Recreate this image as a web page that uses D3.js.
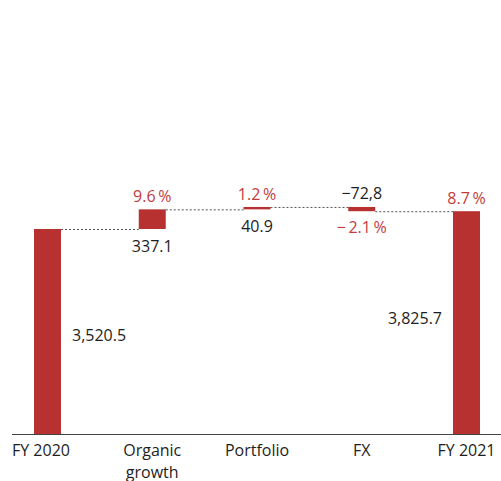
<!DOCTYPE html>
<html>
<head>
<meta charset="utf-8">
<script src="https://cdn.jsdelivr.net/npm/d3@7"></script>
<style>
  html, body { margin: 0; padding: 0; background: #fff; }
  svg { display: block; font-family: "Open Sans", "Noto Sans", sans-serif; }
</style>
</head>
<body>
<svg id="chart" width="501" height="481"></svg>
<script>
// Revenue bridge FY 2020 -> FY 2021
const categories = ["FY 2020", "Organic growth", "Portfolio", "FX", "FY 2021"];
const kinds = ["total", "delta", "delta", "delta", "total"];
const values = [3520.5, 337.1, 40.9, -72.8, 3825.7];
const valueLabels = ["3,520.5", "337.1", "40.9", "\u221272,8", "3,825.7"];
const pctLabels = ["", "9.6\u2009%", "1.2\u2009%", "\u2212\u20092.1\u2009%", "8.7\u2009%"];

const red = "#b83131";
const redText = "#c43c3c";
const ink = "#1e1e1e";

const svg = d3.select("#chart");
const baseY = 434;

const x = d3.scalePoint().domain(categories).range([47.5, 466.5]);
const y = d3.scaleLinear().domain([0, 6400]).range([baseY, 61.3]);
const barW = 27;

// running start/end of each step
let run = 0;
const steps = categories.map((c, i) => {
  let start, end;
  if (kinds[i] === "total") { start = 0; end = values[i]; run = values[i]; }
  else { start = run; end = run + values[i]; run = end; }
  return { c, i, start, end, v: values[i] };
});

// dotted connectors between consecutive bars
const conns = steps.slice(0, -1).map((s, i) => ({ from: s, to: steps[i + 1], level: s.end }));
svg.append("g").selectAll("line").data(conns).join("line")
  .attr("x1", d => x(d.from.c) + barW / 2)
  .attr("x2", d => x(d.to.c) - barW / 2)
  .attr("y1", d => y(d.level) + 0.5)
  .attr("y2", d => y(d.level) + 0.5)
  .attr("stroke", "#555")
  .attr("stroke-width", 1)
  .attr("stroke-dasharray", "2,2");

// bars
svg.append("g").selectAll("rect").data(steps).join("rect")
  .attr("x", d => x(d.c) - barW / 2)
  .attr("width", barW)
  .attr("y", d => y(Math.max(d.start, d.end)))
  .attr("height", d => Math.abs(y(d.start) - y(d.end)))
  .attr("fill", red);

// baseline
svg.append("line")
  .attr("x1", 12).attr("x2", 501)
  .attr("y1", baseY + 0.5).attr("y2", baseY + 0.5)
  .attr("stroke", "#444").attr("stroke-width", 1);

// category labels (first one kept inside the left edge)
const catG = svg.append("g").attr("font-size", 16).attr("fill", ink);
steps.forEach(s => {
  const words = s.c === "Organic growth" ? ["Organic", "growth"] : [s.c];
  const first = s.i === 0;
  words.forEach((w, k) => {
    catG.append("text")
      .attr("x", first ? 12 : x(s.c))
      .attr("y", 456 + k * 21.5)
      .attr("text-anchor", first ? "start" : "middle")
      .text(w);
  });
});

const lab = svg.append("g").attr("font-size", 16);

// value labels
steps.forEach(s => {
  const top = y(Math.max(s.start, s.end));
  const bot = y(Math.min(s.start, s.end));
  let tx, ty, anchor = "middle";
  if (s.i === 0) { tx = x(s.c) + barW / 2 + 11; ty = y(s.end / 2) + 10; anchor = "start"; }
  else if (s.i === 4) { tx = x(s.c) - barW / 2 - 11; ty = y(s.end / 2) + 1; anchor = "end"; }
  else if (s.v < 0) { tx = x(s.c); ty = top - 8; }
  else { tx = x(s.c); ty = bot + 23; }
  lab.append("text").attr("x", tx).attr("y", ty).attr("text-anchor", anchor)
    .attr("fill", ink).text(valueLabels[s.i]);
});

// percentage labels
steps.forEach(s => {
  if (!pctLabels[s.i]) return;
  const top = y(Math.max(s.start, s.end));
  const bot = y(Math.min(s.start, s.end));
  const ty = s.v < 0 ? bot + 22 : top - 7;
  lab.append("text").attr("x", x(s.c)).attr("y", ty).attr("text-anchor", "middle")
    .attr("fill", redText).text(pctLabels[s.i]);
});
</script>
</body>
</html>
